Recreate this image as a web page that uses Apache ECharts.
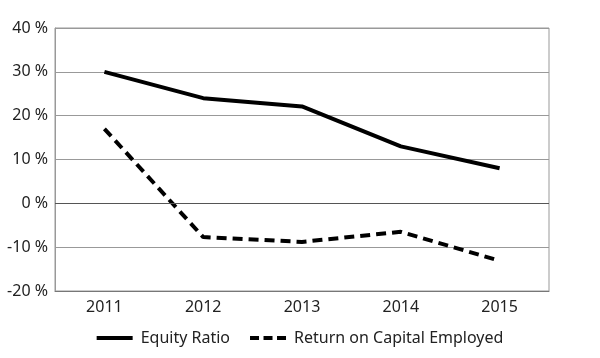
<!DOCTYPE html>
<html><head><meta charset="utf-8">
<script src="https://cdn.jsdelivr.net/npm/echarts@6/dist/echarts.min.js"></script>
<style>html,body{margin:0;padding:0;background:#fff}#c{width:600px;height:358px}</style>
</head><body><div id="c"></div>
<script>
var years = ['2011','2012','2013','2014','2015'];
var equityRatio = [30, 24, 22.1, 13, 8];
var roce = [17, -7.7, -8.8, -6.5, -13.1];
var seriesNames = ['Equity Ratio', 'Return on Capital Employed'];

var chart = echarts.init(document.getElementById('c'), null, {renderer:'canvas'});
var font = 'Noto Sans';
chart.setOption({
  animation:false,
  backgroundColor:'#fff',
  grid:{left:55, right:51, top:28, bottom:67, show:true, borderColor:'#999', borderWidth:1},
  legend:{
    bottom:7, left:'center', itemGap:20, itemWidth:36, itemHeight:14,
    textStyle:{fontFamily:font, fontSize:16, color:'#222', padding:[0,0,0,3]},
    data:[
      {name:seriesNames[0], icon:'path://M0,5 L36,5 L36,9 L0,9 Z', itemStyle:{color:'#000'}},
      {name:seriesNames[1], icon:'path://M0,5 L9,5 L9,9 L0,9 Z M13.5,5 L22.5,5 L22.5,9 L13.5,9 Z M27,5 L36,5 L36,9 L27,9 Z', itemStyle:{color:'#000'}}
    ]
  },
  xAxis:{
    type:'category', data:years, boundaryGap:true,
    axisLine:{show:true, onZero:false, lineStyle:{color:'#777', width:1}},
    axisTick:{show:false},
    axisLabel:{fontFamily:font, fontSize:16, color:'#222', margin:8}
  },
  yAxis:{
    type:'value', min:-20, max:40, interval:10,
    axisLine:{show:true, lineStyle:{color:'#999'}},
    axisTick:{show:false},
    splitLine:{lineStyle:{color:'#999', width:1}},
    axisLabel:{fontFamily:font, fontSize:16, color:'#222', margin:7, formatter:'{value} %'}
  },
  series:[
    {name:seriesNames[0], type:'line', data:equityRatio, symbol:'none', smooth:false,
     lineStyle:{color:'#000', width:4}, itemStyle:{color:'#000'},
     markLine:{silent:true, symbol:'none', label:{show:false}, lineStyle:{color:'#555', width:1, type:'solid'}, data:[{yAxis:0}]}},
    {name:seriesNames[1], type:'line', data:roce, symbol:'none',
     lineStyle:{color:'#000', width:4, type:[10,6]}, itemStyle:{color:'#000'}}
  ]
});
</script></body></html>
